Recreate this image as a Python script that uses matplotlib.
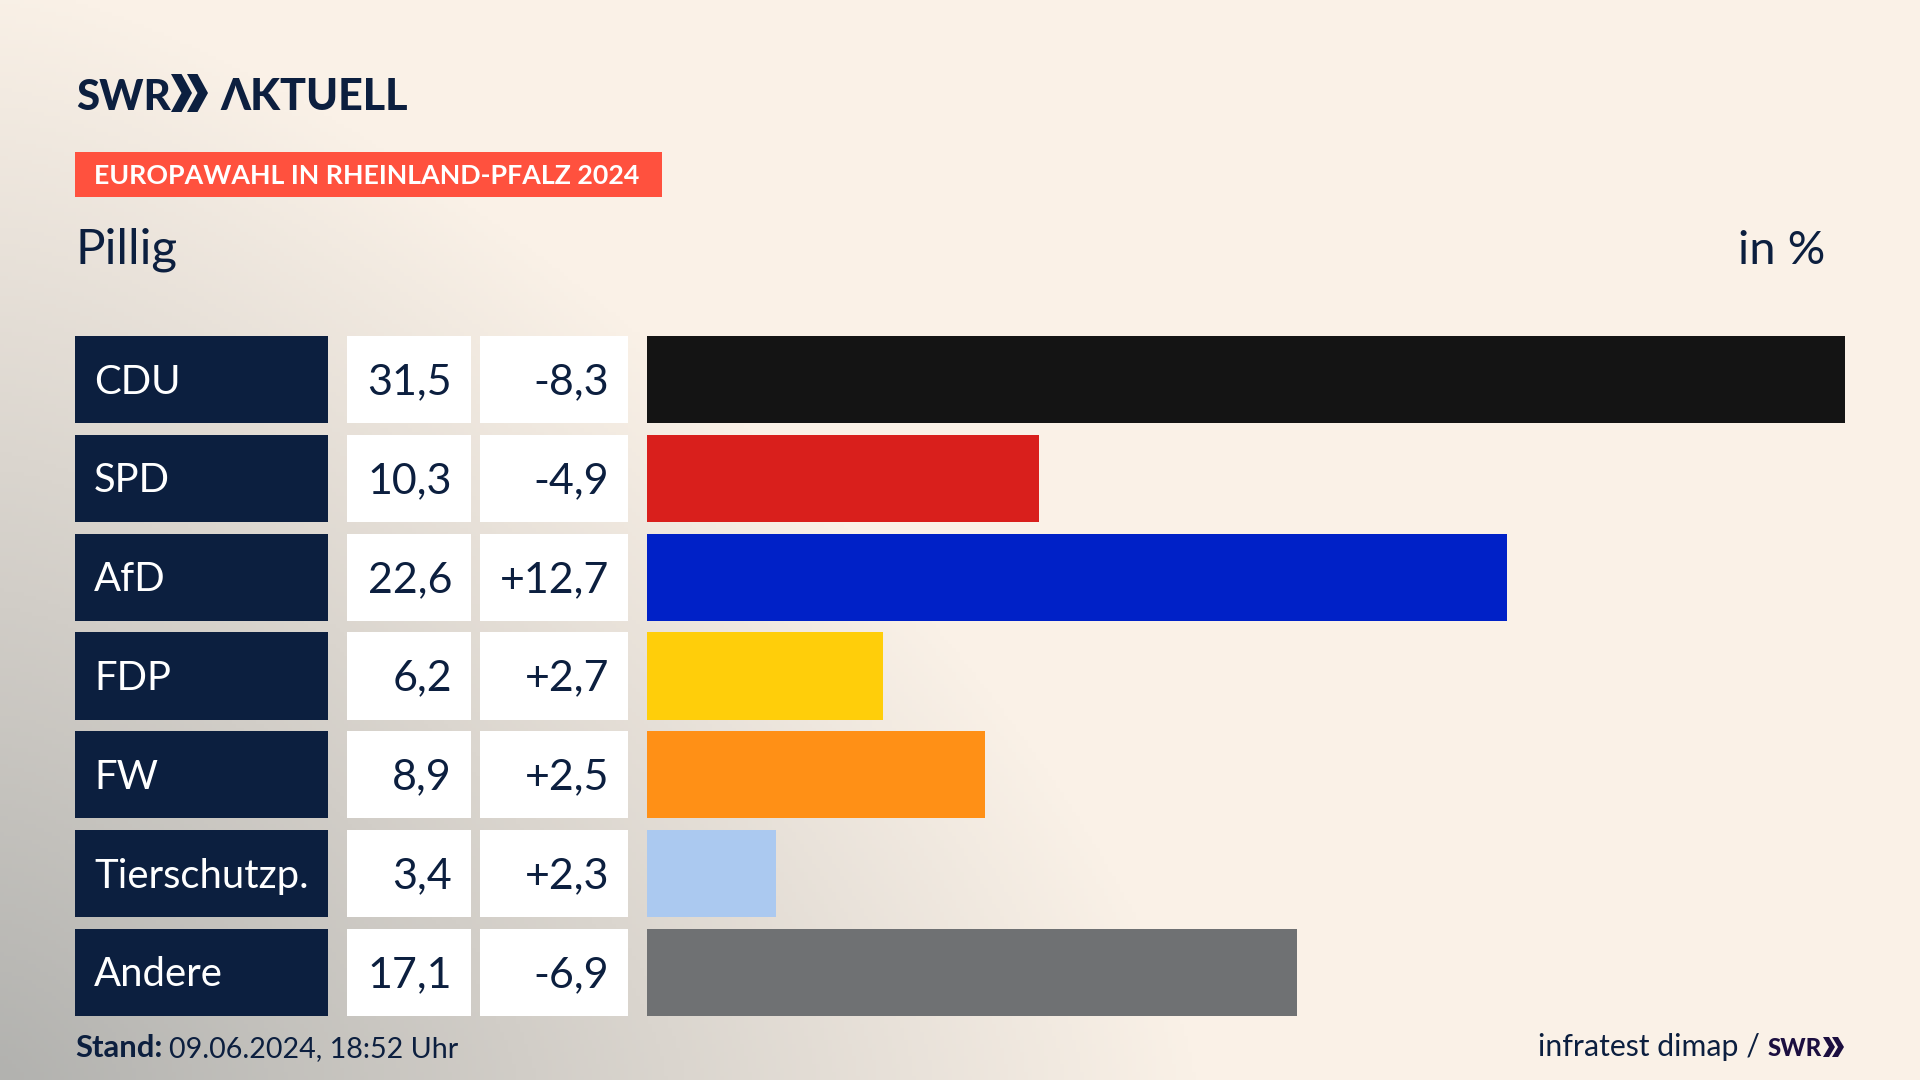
import numpy as np
import matplotlib
matplotlib.use("Agg")
import matplotlib.pyplot as plt
from matplotlib.colors import LinearSegmentedColormap
from matplotlib.patches import Polygon, Rectangle

parties = ["CDU", "SPD", "AfD", "FDP", "FW", "Tierschutzp.", "Andere"]
shares = [31.5, 10.3, 22.6, 6.2, 8.9, 3.4, 17.1]
changes = ["-8,3", "-4,9", "+12,7", "+2,7", "+2,5", "+2,3", "-6,9"]
bar_colors = ["#141414", "#D91F1C", "#0021C7", "#FFCE0A", "#FF9016", "#ABC9F0", "#6F7173"]

NAVY = "#0C1F3F"
FONT = ["Lato", "Noto Sans", "DejaVu Sans"]
W, H = 1920, 1080
ROW_TOP, ROW_BOTTOM = 336, 1016
BAR_H = 0.885


def px(n):
    # font size in points for a size in pixels at dpi 100
    return n * 72 / 100


def chevrons(ax, x0, top, bottom, width, step, color):
    mid = (top + bottom) / 2
    thick = width * 0.5
    for x in (x0, x0 + step):
        pts = [(x, top), (x + thick, top), (x + width, mid),
               (x + thick, bottom), (x, bottom), (x + width - thick, mid)]
        ax.add_patch(Polygon(pts, closed=True, color=color, lw=0))


fig = plt.figure(figsize=(W / 100, H / 100), dpi=100)

# page with background gradient, coordinates in pixels
page = fig.add_axes([0, 0, 1, 1])
page.set_xlim(0, W)
page.set_ylim(H, 0)
page.axis("off")
yy, xx = np.mgrid[0:H:270j, 0:W:480j]
d = ((xx / 1200) ** 1.4 + ((H - yy) / 1100) ** 1.4) ** (1 / 1.4)
cmap = LinearSegmentedColormap.from_list("bg", ["#B2B2AF", "#FAF1E7"])
page.imshow(np.clip(d, 0, 1), cmap=cmap, vmin=0, vmax=1, extent=(0, W, H, 0), aspect="auto")

# header
page.text(76, 110, "SWR", family=FONT, weight="black", fontsize=px(42), color=NAVY, va="baseline")
chevrons(page, 171, 74, 112, 21, 16, NAVY)
page.text(220, 110, "ΛKTUELL", family=FONT, weight="black", fontsize=px(43), color=NAVY, va="baseline")
page.add_patch(Rectangle((75, 152), 587, 45, color="#FF513E", lw=0))
page.text(94, 184, "EUROPAWAHL IN RHEINLAND-PFALZ 2024", family=FONT, weight="bold",
          fontsize=px(26.8), color="white", va="baseline")
page.text(76, 264, "Pillig", family=FONT, fontsize=px(49.5), color=NAVY, va="baseline")
page.text(1825, 264, "in %", family=FONT, fontsize=px(47), color=NAVY, va="baseline", ha="right")

# table at the left, x axis in pixels
tab = fig.add_axes([0, 1 - ROW_BOTTOM / H, 1, (ROW_BOTTOM - ROW_TOP) / H])
tab.set_xlim(0, W)
tab.set_ylim(len(parties) - 1 + BAR_H / 2, -BAR_H / 2)
tab.axis("off")
ypos = np.arange(len(parties))
tab.barh(ypos, 253, left=75, height=BAR_H, color=NAVY)
tab.barh(ypos, 124, left=347, height=BAR_H, color="white")
tab.barh(ypos, 148, left=480, height=BAR_H, color="white")
for i, (name, val, chg) in enumerate(zip(parties, shares, changes)):
    tab.text(94, i - 0.01, name, family=FONT, fontsize=px(40), color="white", va="center_baseline")
    tab.text(452, i - 0.01, f"{val:.1f}".replace(".", ","), family=FONT, fontsize=px(43), color=NAVY,
             va="center_baseline", ha="right")
    tab.text(609.5, i - 0.01, chg, family=FONT, fontsize=px(43), color=NAVY, va="center_baseline", ha="right")

# bars, x axis in percent
ax = fig.add_axes([647 / W, 1 - ROW_BOTTOM / H, (1845 - 647) / W, (ROW_BOTTOM - ROW_TOP) / H])
ax.patch.set_alpha(0)
ax.barh(ypos, shares, height=BAR_H, color=bar_colors)
ax.set_xlim(0, max(shares))
ax.set_ylim(len(parties) - 1 + BAR_H / 2, -BAR_H / 2)
ax.axis("off")

# footer
page.text(75, 1057, "Stand:", family=FONT, weight="bold", fontsize=px(31), color=NAVY, va="baseline")
page.text(169, 1057, "09.06.2024, 18:52 Uhr", family=FONT, fontsize=px(28.6), color=NAVY, va="baseline")
page.text(1760, 1056, "infratest dimap /", family=FONT, fontsize=px(30.2), color=NAVY, va="baseline", ha="right")
page.text(1768, 1056, "SWR", family=FONT, weight="black", fontsize=px(24), color="#1C0F40", va="baseline")
chevrons(page, 1823, 1037, 1057, 12, 9, "#1C0F40")

fig.savefig("out.png", dpi=100)
